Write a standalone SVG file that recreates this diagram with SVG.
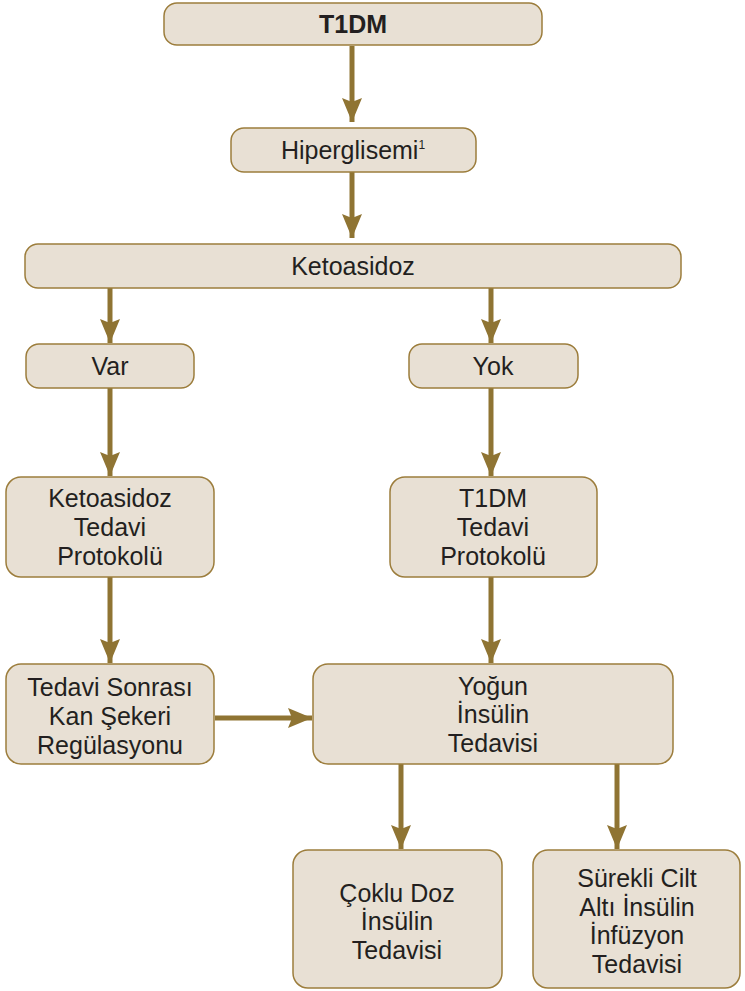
<svg xmlns="http://www.w3.org/2000/svg" width="745" height="991" viewBox="0 0 745 991">
<defs>
<marker id="ah" markerUnits="userSpaceOnUse" markerWidth="24" markerHeight="20" refX="24" refY="10" orient="auto" viewBox="0 0 24 20">
<path d="M0,0 L24,10 L0,20 L4,10 Z" fill="#8f7433"/>
</marker>
<style>
.box{fill:#e8e0d4;stroke:#9c7d3c;stroke-width:1.5}
.t{font-family:"Liberation Sans",Arial,Helvetica,sans-serif;font-size:25px;fill:#231f20;text-anchor:middle}
.c{stroke:#8f7433;stroke-width:5;fill:none;marker-end:url(#ah)}
</style>
</defs>
<rect width="745" height="991" fill="#ffffff"/>
<g id="connectors">
<line class="c" x1="352" y1="46" x2="352" y2="122"/>
<line class="c" x1="352" y1="172" x2="352" y2="238"/>
<line class="c" x1="110" y1="288" x2="110" y2="343"/>
<line class="c" x1="491" y1="288" x2="491" y2="343"/>
<line class="c" x1="110" y1="388" x2="110" y2="476"/>
<line class="c" x1="491" y1="388" x2="491" y2="476"/>
<line class="c" x1="110" y1="577" x2="110" y2="663"/>
<line class="c" x1="491" y1="577" x2="491" y2="663"/>
<line class="c" x1="215" y1="718" x2="312" y2="718"/>
<line class="c" x1="401" y1="764" x2="401" y2="849"/>
<line class="c" x1="617" y1="764" x2="617" y2="849"/>
</g>
<g id="n-t1dm">
<rect class="box" x="164" y="3" width="378" height="42" rx="13"/>
<text class="t" x="353" y="33" font-weight="bold">T1DM</text>
</g>
<g id="n-hiperglisemi">
<rect class="box" x="231" y="128" width="245" height="44" rx="13"/>
<text class="t" x="353" y="159">Hiperglisemi<tspan font-size="12" dy="-10">1</tspan></text>
</g>
<g id="n-ketoasidoz">
<rect class="box" x="25" y="244" width="656" height="44" rx="13"/>
<text class="t" x="353" y="275">Ketoasidoz</text>
</g>
<g id="n-var">
<rect class="box" x="26" y="344" width="168" height="44" rx="13"/>
<text class="t" x="110" y="375">Var</text>
</g>
<g id="n-yok">
<rect class="box" x="409" y="344" width="169" height="44" rx="13"/>
<text class="t" x="493" y="375">Yok</text>
</g>
<g id="n-keto-tedavi">
<rect class="box" x="6" y="477" width="208" height="100" rx="15"/>
<text class="t" x="110" y="507">Ketoasidoz</text>
<text class="t" x="110" y="536">Tedavi</text>
<text class="t" x="110" y="565">Protokolü</text>
</g>
<g id="n-t1dm-tedavi">
<rect class="box" x="390" y="477" width="207" height="100" rx="15"/>
<text class="t" x="493" y="507">T1DM</text>
<text class="t" x="493" y="536">Tedavi</text>
<text class="t" x="493" y="565">Protokolü</text>
</g>
<g id="n-tedavi-sonrasi">
<rect class="box" x="6" y="664" width="208" height="100" rx="15"/>
<text class="t" x="110" y="696">Tedavi Sonrası</text>
<text class="t" x="110" y="725">Kan Şekeri</text>
<text class="t" x="110" y="754">Regülasyonu</text>
</g>
<g id="n-yogun">
<rect class="box" x="313" y="664" width="360" height="100" rx="15"/>
<text class="t" x="493" y="695">Yoğun</text>
<text class="t" x="493" y="723">İnsülin</text>
<text class="t" x="493" y="752">Tedavisi</text>
</g>
<g id="n-coklu">
<rect class="box" x="293" y="850" width="209" height="138" rx="15"/>
<text class="t" x="397" y="902">Çoklu Doz</text>
<text class="t" x="397" y="930">İnsülin</text>
<text class="t" x="397" y="959">Tedavisi</text>
</g>
<g id="n-surekli">
<rect class="box" x="533" y="850" width="207" height="138" rx="15"/>
<text class="t" x="637" y="887">Sürekli Cilt</text>
<text class="t" x="637" y="916">Altı İnsülin</text>
<text class="t" x="637" y="944">İnfüzyon</text>
<text class="t" x="637" y="973">Tedavisi</text>
</g>
</svg>
